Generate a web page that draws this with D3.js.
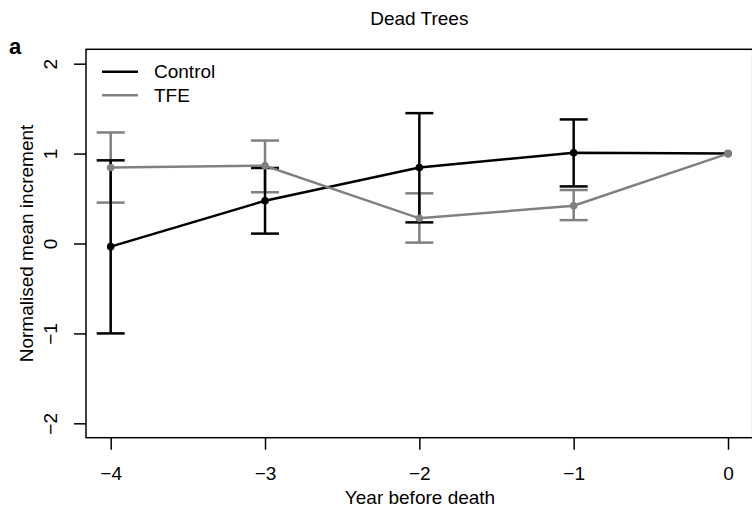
<!DOCTYPE html>
<html>
<head>
<meta charset="utf-8">
<script src="https://cdn.jsdelivr.net/npm/d3@7"></script>
<style>
body { margin: 0; background: #fff; }
text { font-family: "Liberation Sans", Arial, sans-serif; }
</style>
</head>
<body>
<div id="chart"></div>
<script>
// data
var years = [-4, -3, -2, -1, 0];
var controlMean = [-0.035, 0.475, 0.845, 1.01, 1.0];
var controlLow  = [-1.0, 0.11, 0.235, 0.635, 1.0];
var controlHigh = [0.925, 0.84, 1.45, 1.38, 1.0];
var tfeMean = [0.845, 0.865, 0.28, 0.42, 1.0];
var tfeLow  = [0.455, 0.57, 0.01, 0.26, 1.0];
var tfeHigh = [1.235, 1.145, 0.558, 0.595, 1.0];
var xTicks = [-4, -3, -2, -1, 0];
var yTicks = [-2, -1, 0, 1, 2];
var seriesNames = ["Control", "TFE"];
var seriesColors = ["#000000", "#808080"];

chart('#chart');

function chart(id) {
	var width = 752;
	var height = 513;
	var margin = { top: 49.3, right: -0.7, bottom: 75.3, left: 86 };

	var svg = d3.select(id).append("svg")
		.attr("width", width)
		.attr("height", height);

	var x = d3.scaleLinear()
		.domain([-4.16, 0.16])
		.range([margin.left, width - margin.right]);
	var y = d3.scaleLinear()
		.domain([-2.16, 2.16])
		.range([height - margin.bottom, margin.top]);

	var minus = function(d) { return d < 0 ? "\u2212" + Math.abs(d) : d; };

	// plot box
	svg.append("rect")
		.attr("x", x.range()[0]).attr("y", y.range()[1])
		.attr("width", x.range()[1] - x.range()[0])
		.attr("height", y.range()[0] - y.range()[1])
		.attr("fill", "none")
		.attr("stroke", "#000")
		.attr("stroke-width", 1.5);

	// axes
	var xAxis = svg.append("g")
		.attr("transform", "translate(0," + y.range()[0] + ")")
		.call(d3.axisBottom(x).tickValues(xTicks).tickSize(12).tickPadding(17).tickFormat(minus));
	xAxis.select(".domain").remove();
	xAxis.selectAll("line").attr("stroke-width", 1.5);
	xAxis.selectAll("text").style("font-size", "19px").attr("fill", "#000");

	var yAxis = svg.append("g")
		.attr("transform", "translate(" + x.range()[0] + ",0)")
		.call(d3.axisLeft(y).tickValues(yTicks).tickSize(12).tickFormat(minus));
	yAxis.select(".domain").remove();
	yAxis.selectAll("line").attr("stroke-width", 1.5);
	// R style: labels parallel to the axis
	yAxis.selectAll(".tick text")
		.attr("x", 0).attr("y", 0).attr("dy", null)
		.attr("text-anchor", "middle")
		.attr("transform", "translate(-29,0) rotate(-90)")
		.style("font-size", "19px").attr("fill", "#000");

	// titles
	svg.append("text")
		.attr("x", (x.range()[0] + x.range()[1]) / 2).attr("y", 25)
		.attr("text-anchor", "middle")
		.style("font-size", "19px")
		.text("Dead Trees");

	svg.append("text")
		.attr("x", 9).attr("y", 54)
		.style("font-size", "22px").style("font-weight", "bold")
		.text("a");

	svg.append("text")
		.attr("x", 420).attr("y", 504)
		.attr("text-anchor", "middle")
		.style("font-size", "19px")
		.text("Year before death");

	svg.append("text")
		.attr("transform", "translate(33," + y(0) + ") rotate(-90)")
		.attr("text-anchor", "middle")
		.style("font-size", "19px")
		.text("Normalised mean increment");

	var series = [
		{ mean: tfeMean, low: tfeLow, high: tfeHigh, color: seriesColors[1] },
		{ mean: controlMean, low: controlLow, high: controlHigh, color: seriesColors[0] }
	];

	var line = d3.line()
		.x(function(d, i) { return x(years[i]); })
		.y(function(d) { return y(d); });

	// error bars first, then lines/points
	series.forEach(function(s) {
		var g = svg.append("g");
		years.forEach(function(yr, i) {
			if (s.low[i] === s.high[i]) return;
			g.append("line")
				.attr("x1", x(yr)).attr("x2", x(yr))
				.attr("y1", y(s.low[i])).attr("y2", y(s.high[i]))
				.attr("stroke", s.color).attr("stroke-width", 2.5);
			[s.low[i], s.high[i]].forEach(function(v) {
				g.append("line")
					.attr("x1", x(yr) - 14).attr("x2", x(yr) + 14)
					.attr("y1", y(v)).attr("y2", y(v))
					.attr("stroke", s.color).attr("stroke-width", 2.5);
			});
		});
	});

	series.slice().reverse().forEach(function(s) {
		svg.append("path")
			.datum(s.mean)
			.attr("d", line)
			.attr("fill", "none")
			.attr("stroke", s.color)
			.attr("stroke-width", 2.5);
		svg.selectAll(null)
			.data(s.mean)
			.enter().append("circle")
			.attr("cx", function(d, i) { return x(years[i]); })
			.attr("cy", function(d) { return y(d); })
			.attr("r", 3.8)
			.attr("fill", s.color);
	});

	// legend
	var legend = svg.append("g");
	seriesNames.forEach(function(name, i) {
		var ly = 71.7 + i * 23.5;
		legend.append("line")
			.attr("x1", 102).attr("x2", 138)
			.attr("y1", ly).attr("y2", ly)
			.attr("stroke", seriesColors[i]).attr("stroke-width", 2.5);
		legend.append("text")
			.attr("x", 154).attr("y", ly)
			.attr("dy", "0.35em")
			.style("font-size", "19px")
			.text(name);
	});
}
</script>
</body>
</html>
